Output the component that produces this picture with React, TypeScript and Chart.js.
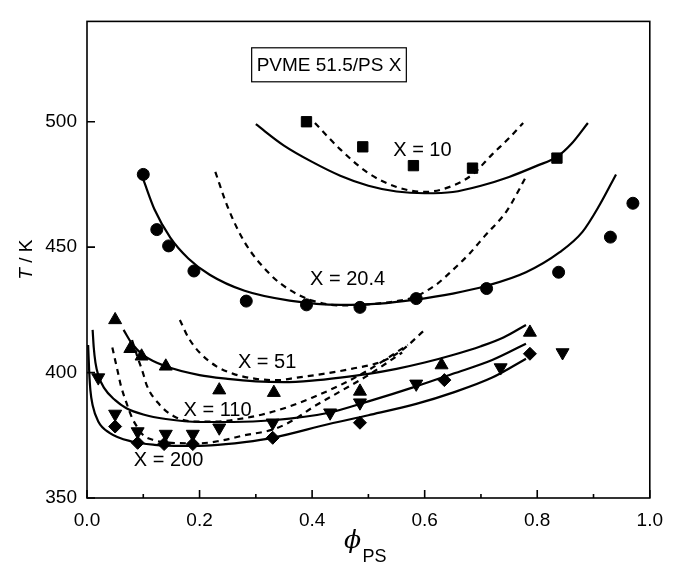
import React, { useEffect, useRef } from "react";
import { Chart, registerables } from "chart.js";

Chart.register(...registerables);

const FONT = "'Liberation Sans', Arial, Helvetica, sans-serif";

// axis ticks
const xTickValues = [0, 0.2, 0.4, 0.6, 0.8, 1.0];
const xMinorTickValues = [0.1, 0.3, 0.5, 0.7, 0.9];
const yTickValues = [350, 400, 450, 500];

// X = 10 (squares)
const x10Phi = [0.39, 0.49, 0.58, 0.685, 0.835];
const x10T = [500, 490, 482.5, 481.5, 485.5];
const x10SolidPhi = [0.3, 0.35, 0.4, 0.45, 0.5, 0.55, 0.6, 0.65, 0.7, 0.75, 0.8, 0.835, 0.86, 0.89];
const x10SolidT = [499, 490.5, 484, 478.5, 474.5, 472.2, 471.5, 472, 474.5, 478, 482.5, 486, 491, 499.5];
const x10DashPhi = [0.405, 0.45, 0.5, 0.55, 0.6, 0.65, 0.685, 0.72, 0.75, 0.775];
const x10DashT = [499.5, 489, 479.5, 474, 472, 474.5, 479, 487, 493.5, 499.5];

// X = 20.4 (circles)
const x20Phi = [0.1, 0.124, 0.145, 0.19, 0.283, 0.39, 0.485, 0.585, 0.71, 0.838, 0.93, 0.97];
const x20T = [479, 457, 450.5, 440.5, 428.5, 427, 426, 429.5, 433.5, 440, 454, 467.5];
const x20SolidPhi = [0.1, 0.12, 0.148, 0.18, 0.218, 0.28, 0.36, 0.45, 0.52, 0.58, 0.65, 0.71, 0.78, 0.84, 0.88, 0.91, 0.94];
const x20SolidT = [477, 465, 453.8, 445.5, 439, 432.6, 428.7, 427, 427.5, 429, 431.5, 434.6, 440, 448, 456, 466.5, 479];
const x20DashPhi = [0.228, 0.25, 0.28, 0.326, 0.36, 0.4, 0.45, 0.5, 0.55, 0.58, 0.62, 0.648, 0.68, 0.705, 0.746, 0.78];
const x20DashT = [480, 466, 452, 439, 433, 428.7, 426.8, 427.2, 428.5, 430, 435, 440.5, 447.5, 454, 464.5, 478];

// X = 51 (up triangles)
const x51Phi = [0.05, 0.077, 0.097, 0.14, 0.235, 0.332, 0.485, 0.63, 0.787];
const x51T = [421, 409.5, 406.5, 402.5, 393, 392, 392.5, 403, 416];
const x51SolidPhi = [0.065, 0.08, 0.1, 0.14, 0.2, 0.25, 0.3, 0.35, 0.4, 0.45, 0.5, 0.55, 0.6, 0.65, 0.7, 0.74, 0.78];
const x51SolidT = [417, 411.5, 407, 402.5, 399, 397.5, 396.5, 396.2, 396.8, 398, 399.5, 401.5, 404, 407, 410.5, 414, 419];
const x51DashPhi = [0.165, 0.18, 0.2, 0.23, 0.26, 0.3, 0.34, 0.373, 0.42, 0.47, 0.525, 0.56, 0.6];
const x51DashT = [421, 414, 408, 402.5, 399.5, 397.5, 397, 398, 399.5, 401.5, 404.5, 409, 417];

// X = 110 (down triangles)
const x110Phi = [0.02, 0.05, 0.09, 0.14, 0.188, 0.235, 0.33, 0.432, 0.485, 0.585, 0.735, 0.845];
const x110T = [398, 383.5, 376.5, 375.5, 375.5, 378, 380, 384, 388, 395.5, 402, 408];
const x110SolidPhi = [0.01, 0.012, 0.015, 0.02, 0.03, 0.05, 0.07, 0.1, 0.14, 0.2, 0.26, 0.33, 0.43, 0.5, 0.585, 0.65, 0.72, 0.78];
const x110SolidT = [417, 410, 404, 399, 394, 389, 385.8, 383.3, 381.5, 380.3, 380.3, 381, 384, 388.5, 394.5, 399.5, 405, 411.5];
const x110DashPhi = [0.08, 0.09, 0.1, 0.106, 0.129, 0.155, 0.19, 0.23, 0.27, 0.31, 0.36, 0.4, 0.45, 0.5, 0.57];
const x110DashT = [413, 406, 399.5, 395, 387.2, 382.5, 380.5, 380.5, 381.5, 383.2, 386.5, 390, 395, 401, 411];

// X = 200 (diamonds)
const x200Phi = [0.05, 0.09, 0.137, 0.188, 0.33, 0.485, 0.635, 0.787];
const x200T = [378.5, 372, 371.5, 371.5, 374, 380, 397, 407.5];
const x200SolidPhi = [0.002, 0.004, 0.006, 0.01, 0.02, 0.04, 0.08, 0.12, 0.17, 0.22, 0.28, 0.33, 0.43, 0.5, 0.585, 0.65, 0.72, 0.78];
const x200SolidT = [411, 400, 393, 387, 380.5, 376, 372.5, 371.2, 370.8, 371, 372.3, 374, 379.5, 383, 387.5, 392, 398, 405.5];
const x200DashPhi = [0.045, 0.055, 0.06, 0.07, 0.08, 0.09, 0.1, 0.12, 0.15, 0.2, 0.234, 0.28, 0.333, 0.37, 0.4, 0.45, 0.5, 0.56];
const x200DashT = [410, 400, 395, 388, 382, 378, 375, 373, 372, 371.8, 372.7, 375, 377.5, 381.5, 386, 392.5, 399, 408];

// annotations
const curveLabelTexts = ["X = 10", "X = 20.4", "X = 51", "X = 110", "X = 200"];
const curveLabelPhi = [0.596, 0.463, 0.32, 0.232, 0.145];
const curveLabelT = [488.6, 437, 404, 385, 365];
const titleText = "PVME 51.5/PS X";
const titlePhi = 0.43;
const titleT = 522.7;

function pts(xs: number[], ys: number[]) {
  return xs.map((x, i) => ({ x, y: ys[i] }));
}

function markerSet(xs: number[], ys: number[], style: string, radius: number, rotation = 0) {
  return {
    data: pts(xs, ys),
    showLine: false,
    pointStyle: style,
    pointRadius: radius,
    pointRotation: rotation,
    pointBackgroundColor: "#000",
    pointBorderColor: "#000",
    pointBorderWidth: 1,
  };
}

function curveSet(xs: number[], ys: number[], dashed: boolean) {
  return {
    data: pts(xs, ys),
    showLine: true,
    pointRadius: 0,
    borderColor: "#000",
    borderWidth: 2.2,
    borderDash: dashed ? [6, 5] : [],
    cubicInterpolationMode: "monotone",
    fill: false,
  };
}

const decor = {
  id: "decor",
  afterDraw(chart: any) {
    const { ctx, chartArea: a } = chart;
    const xs = chart.scales.x;
    const ys = chart.scales.y;
    ctx.save();
    ctx.strokeStyle = "#000";
    ctx.lineWidth = 1.6;
    ctx.setLineDash([]);
    ctx.strokeRect(a.left, a.top, a.right - a.left, a.bottom - a.top);
    ctx.beginPath();
    xTickValues.forEach((v) => {
      const px = xs.getPixelForValue(v);
      ctx.moveTo(px, a.bottom);
      ctx.lineTo(px, a.bottom - 8);
    });
    xMinorTickValues.forEach((v) => {
      const px = xs.getPixelForValue(v);
      ctx.moveTo(px, a.bottom);
      ctx.lineTo(px, a.bottom - 4);
    });
    yTickValues.forEach((v) => {
      const py = ys.getPixelForValue(v);
      ctx.moveTo(a.left, py);
      ctx.lineTo(a.left + 8, py);
    });
    ctx.stroke();

    // title box
    ctx.font = `19px ${FONT}`;
    const tw = ctx.measureText(titleText).width;
    const cx = xs.getPixelForValue(titlePhi);
    const cy = ys.getPixelForValue(titleT);
    const bw = tw + 10;
    const bh = 34;
    ctx.lineWidth = 1.2;
    ctx.strokeRect(cx - bw / 2, cy - bh / 2, bw, bh);
    ctx.fillStyle = "#000";
    ctx.textAlign = "center";
    ctx.textBaseline = "middle";
    ctx.fillText(titleText, cx, cy + 1);

    // curve labels
    ctx.font = `20px ${FONT}`;
    curveLabelTexts.forEach((t, i) => {
      ctx.fillText(t, xs.getPixelForValue(curveLabelPhi[i]), ys.getPixelForValue(curveLabelT[i]));
    });

    // x title
    const mx = (a.left + a.right) / 2;
    ctx.font = `italic 25px 'DejaVu Serif', serif`;
    ctx.fillText("\u03D5", mx - 16, a.bottom + 43);
    ctx.font = `18px ${FONT}`;
    ctx.fillText("PS", mx + 6, a.bottom + 59);

    // y title
    ctx.translate(27, (a.top + a.bottom) / 2);
    ctx.rotate(-Math.PI / 2);
    ctx.textAlign = "left";
    const fItal = `italic 19px ${FONT}`;
    const fReg = `19px ${FONT}`;
    ctx.font = fItal;
    const w1 = ctx.measureText("T").width;
    ctx.font = fReg;
    const w2 = ctx.measureText(" / K").width;
    const start = -(w1 + w2) / 2;
    ctx.font = fItal;
    ctx.fillText("T", start, 0);
    ctx.font = fReg;
    ctx.fillText(" / K", start + w1, 0);
    ctx.restore();
  },
};

export default function App() {
  const ref = useRef<HTMLCanvasElement | null>(null);
  useEffect(() => {
    if (!ref.current) return;
    const chart = new Chart(ref.current, {
      type: "scatter",
      data: {
        datasets: [
          curveSet(x10SolidPhi, x10SolidT, false),
          curveSet(x10DashPhi, x10DashT, true),
          curveSet(x20SolidPhi, x20SolidT, false),
          curveSet(x20DashPhi, x20DashT, true),
          curveSet(x51SolidPhi, x51SolidT, false),
          curveSet(x51DashPhi, x51DashT, true),
          curveSet(x110SolidPhi, x110SolidT, false),
          curveSet(x110DashPhi, x110DashT, true),
          curveSet(x200SolidPhi, x200SolidT, false),
          curveSet(x200DashPhi, x200DashT, true),
          markerSet(x10Phi, x10T, "rect", 7.3),
          markerSet(x20Phi, x20T, "circle", 6),
          markerSet(x51Phi, x51T, "triangle", 7.5),
          markerSet(x110Phi, x110T, "triangle", 7.5, 180),
          markerSet(x200Phi, x200T, "rectRot", 6.5),
        ] as any,
      },
      options: {
        responsive: false,
        animation: false,
        events: [],
        layout: { padding: { left: 0, right: 15, top: 13, bottom: 0 } },
        plugins: {
          legend: { display: false },
          tooltip: { enabled: false },
          title: { display: false },
        },
        scales: {
          x: {
            type: "linear",
            min: 0,
            max: 1,
            grid: { display: false, drawTicks: false },
            border: { display: false },
            afterBuildTicks: (ax: any) => {
              ax.ticks = xTickValues.map((v) => ({ value: v }));
            },
            afterFit: (ax: any) => {
              ax.height = 68;
            },
            ticks: {
              padding: 11,
              color: "#000",
              autoSkip: false,
              maxRotation: 0,
              font: { family: FONT, size: 19 },
              callback: (v: any) => Number(v).toFixed(1),
            },
          },
          y: {
            type: "linear",
            min: 350,
            max: 540,
            grid: { display: false, drawTicks: false },
            border: { display: false },
            afterBuildTicks: (ax: any) => {
              ax.ticks = yTickValues.map((v) => ({ value: v }));
            },
            afterFit: (ax: any) => {
              ax.width = 87;
            },
            ticks: {
              padding: 10,
              color: "#000",
              autoSkip: false,
              font: { family: FONT, size: 19 },
              callback: (v: any) => String(v),
            },
          },
        },
      } as any,
      plugins: [decor],
    });
    return () => chart.destroy();
  }, []);
  return (
    <div style={{ position: "absolute", left: 0, top: 0, width: 674, height: 566, background: "#fff" }}>
      <canvas ref={ref} width={674} height={566} style={{ position: "absolute", left: 0, top: 0 }} />
    </div>
  );
}
